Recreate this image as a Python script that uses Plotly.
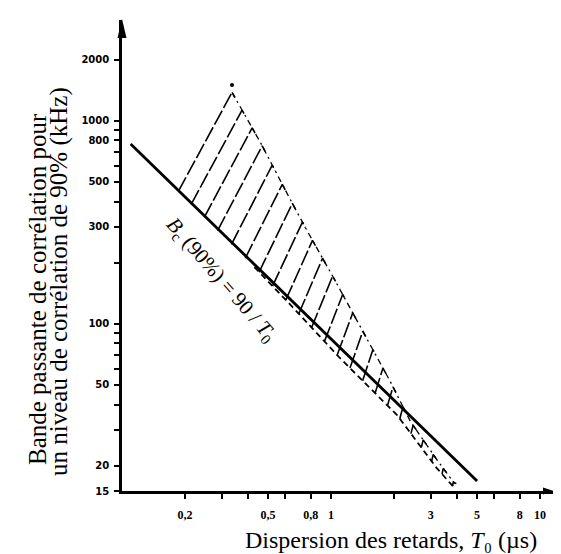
import numpy as np
import plotly.graph_objects as go

# ---- data ----
# main line  Bc(90%) = 90/T0  (end points as drawn)
line_T = [0.11, 5.0]
line_B = [768, 16.8]

# upper dash-dot boundary of the hatched zone
upper_T = [0.336, 0.46, 0.63, 0.77, 1.03, 1.2, 1.57, 1.92, 2.4, 3.2, 3.9]
upper_B = [1380, 780, 420, 286, 168, 126, 76, 52, 33, 21.5, 16.3]

# lower dashed boundary
lower_T = [0.43, 0.64, 1.1, 2.07, 3.2, 3.9]
lower_B = [190, 124, 68, 35.5, 19.5, 15.5]

# isolated dot at the top of the zone
dot_T = [0.336]
dot_B = [1500]

x_tickvals = [0.2, 0.3, 0.4, 0.5, 0.6, 0.8, 1, 2, 3, 4, 5, 6, 8, 10]
x_ticktext = ["0,2", "", "", "0,5", "", "0,8", "1", "", "3", "", "5", "", "8", "10"]

y_tickvals = [15, 20, 30, 40, 50, 60, 70, 80, 90, 100, 200, 300, 400, 500,
              600, 700, 800, 900, 1000, 2000]
y_ticktext = ["15", "20", "", "", "50", "", "", "", "", "100", "", "300", "",
              "500", "", "", "800", "", "1000", "2000"]

n_hatch = 23

# ---- hatch lines (pattern between the boundaries) ----
lUT, lUB = np.log10(upper_T), np.log10(upper_B)
bound_T = np.log10([line_T[0]] + lower_T)
bound_B = np.log10([line_B[0]] + lower_B)

tops = np.linspace(np.log10(upper_T[0]), np.log10(3.85), n_hatch)
hx, hy = [], []
for i, lt in enumerate(tops):
    lb = np.interp(lt, lUT, lUB)
    s = 1.9 + 3.0 * (i / (n_hatch - 1)) ** 2
    grid = np.linspace(lt, lt - 1.5, 3000)
    vals = lb + s * (grid - lt)
    bnd = np.interp(grid, bound_T, bound_B)
    diff = vals - bnd
    idx = np.where(diff <= 0)[0]
    if len(idx) == 0 or idx[0] == 0:
        continue
    k = idx[0]
    g0, g1 = grid[k - 1], grid[k]
    d0, d1 = diff[k - 1], diff[k]
    gb = g0 + (g1 - g0) * d0 / (d0 - d1)
    vb = lb + s * (gb - lt)
    # small hook at the top, bending along the upper boundary
    lh = lt + 0.014
    bh = np.interp(lh, lUT, lUB)
    hx += [10 ** gb, 10 ** lt, 10 ** lh, None]
    hy += [10 ** vb, 10 ** lb, 10 ** bh, None]

fig = go.Figure()
fig.add_trace(go.Scatter(x=hx, y=hy, mode="lines",
                         line=dict(color="black", width=1.6, dash="16px,3px"),
                         hoverinfo="skip"))
fig.add_trace(go.Scatter(x=upper_T, y=upper_B, mode="lines",
                         line=dict(color="black", width=1.3, dash="6px,4px,2px,4px")))
fig.add_trace(go.Scatter(x=lower_T, y=lower_B, mode="lines",
                         line=dict(color="black", width=1.8, dash="6px,4px")))
fig.add_trace(go.Scatter(x=line_T, y=line_B, mode="lines",
                         line=dict(color="black", width=2.8)))
fig.add_trace(go.Scatter(x=dot_T, y=dot_B, mode="markers",
                         marker=dict(color="black", size=4)))

serif = "Liberation Serif"
axis_common = dict(type="log", showline=True, linecolor="black", linewidth=2.5,
                   ticks="outside", ticklen=5, tickwidth=1.5, tickcolor="black",
                   showgrid=False, zeroline=False)

PL, PT, PW, PH = 114, 12, 431, 471

fig.update_layout(
    width=561, height=554,
    margin=dict(l=PL, r=561 - PL - PW, t=PT, b=554 - PT - PH),
    paper_bgcolor="white", plot_bgcolor="white",
    showlegend=False,
    xaxis=dict(range=[-1, -1 + PW / 209], tickvals=x_tickvals, ticktext=x_ticktext,
               tickfont=dict(family=serif, size=12, color="black", weight="bold"),
               ticklabelstandoff=6, **axis_common),
    yaxis=dict(range=[np.log10(15), np.log10(15) + PH / 203],
               tickvals=y_tickvals, ticktext=y_ticktext,
               tickfont=dict(family="DejaVu Sans", size=10, color="black", weight="bold"),
               ticklabelstandoff=3, **axis_common),
)

# axis arrow heads
fig.add_shape(type="path", xref="paper", yref="paper", xsizemode="pixel",
              ysizemode="pixel", xanchor=0, yanchor=1,
              path="M -4.5,-18 L 4.5,-18 L 0,1 Z", fillcolor="black", line_width=0)
fig.add_shape(type="path", xref="paper", yref="paper", xsizemode="pixel",
              ysizemode="pixel", xanchor=1, yanchor=0,
              path="M -10,3.5 L -10,-3.5 L 1,0 Z", fillcolor="black", line_width=0)


def px_x(p):
    return (p - PL) / PW


def px_y(p):
    return (PT + PH - p) / PH


ann = []
# formula on the line
ann.append(dict(x=np.log10(0.298), y=np.log10(164), xref="x", yref="y",
                text="<i>B</i><sub>c</sub> (90%) = 90 / <i>T</i><sub>0</sub>",
                textangle=49, showarrow=False,
                font=dict(family=serif, size=21, color="black")))
# y title (two lines)
ann.append(dict(xref="paper", yref="paper", x=px_x(29), y=px_y(281),
                text="Bande passante de corrélation pour", textangle=-90,
                showarrow=False, xanchor="center", yanchor="middle",
                font=dict(family=serif, size=25, color="black")))
ann.append(dict(xref="paper", yref="paper", x=px_x(51), y=px_y(274),
                text="un niveau de corrélation de 90% (kHz)", textangle=-90,
                showarrow=False, xanchor="center", yanchor="middle",
                font=dict(family=serif, size=25, color="black")))
# x title
ann.append(dict(xref="paper", yref="paper", x=px_x(383), y=px_y(532),
                text="Dispersion des retards, <i>T</i>₀ (µs)",
                showarrow=False, xanchor="center", yanchor="middle",
                font=dict(family=serif, size=24, color="black")))
fig.update_layout(annotations=ann)

fig.write_html("out.html")
